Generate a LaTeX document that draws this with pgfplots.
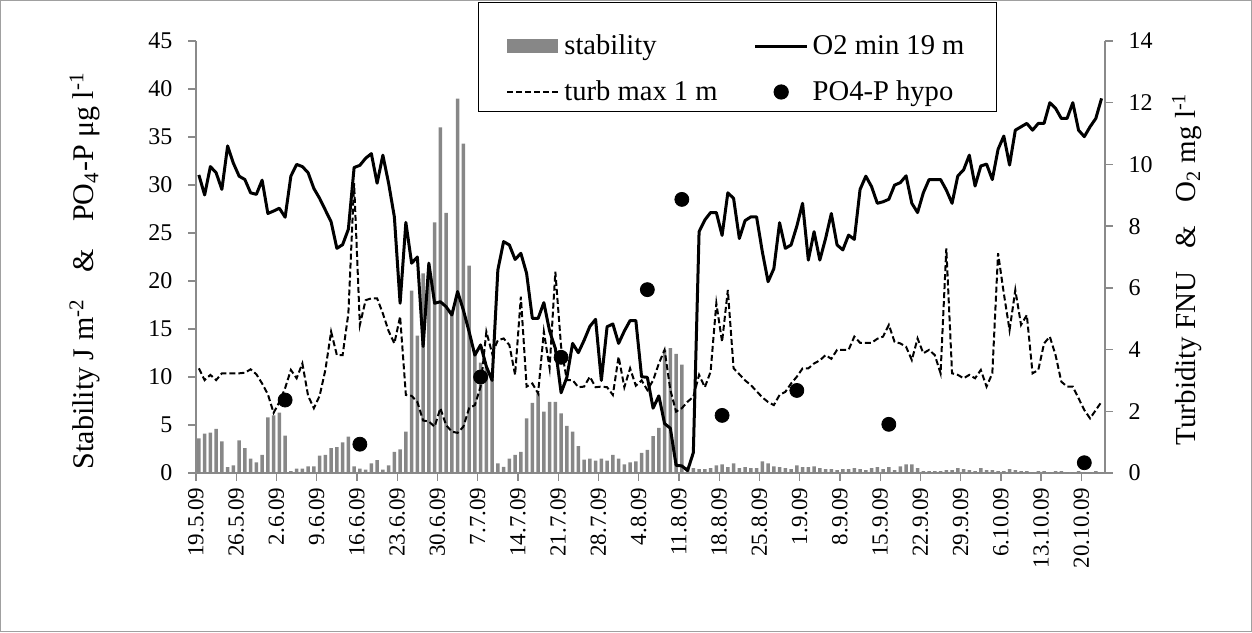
\documentclass[border=0pt]{standalone}
\usepackage{fontspec}
\setmainfont{Liberation Serif}
\usepackage{pgfplots}
\usepackage{pgfplotstable}
\pgfplotsset{compat=1.18}
\definecolor{barcol}{HTML}{878787}
\definecolor{axcol}{HTML}{8A8A8A}
\definecolor{framecol}{HTML}{A0A0A0}

% day 0 = 19.5.09; stability (left axis), O2 and turbidity (right axis)
\pgfplotstableread{
d stab o2 turb
0 3.6 9.66 3.39
1 4.1 9.01 3.01
2 4.2 9.93 3.18
3 4.6 9.73 3.01
4 3.3 9.19 3.23
5 0.6 10.6 3.23
6 0.8 10.04 3.23
7 3.4 9.62 3.23
8 2.6 9.51 3.25
9 1.5 9.08 3.36
10 1.1 9.03 3.2
11 1.9 9.49 2.9
12 5.8 8.41 2.55
13 6.0 8.49 1.95
14 6.3 8.58 2.3
15 3.9 8.29 2.75
16 0.2 9.62 3.34
17 0.45 10.0 3.07
18 0.45 9.93 3.55
19 0.7 9.73 2.5
20 0.7 9.22 2.1
21 1.8 8.9 2.5
22 1.9 8.52 3.34
23 2.6 8.14 4.58
24 2.7 7.28 3.82
25 3.2 7.4 3.82
26 3.8 7.9 5.17
27 0.7 9.9 9.39
28 0.45 9.97 4.8
29 0.35 10.2 5.6
30 1.0 10.35 5.66
31 1.35 9.39 5.66
32 0.35 10.3 5.17
33 0.8 9.39 4.6
34 2.2 8.3 4.2
35 2.45 5.5 5.07
36 4.3 8.12 2.53
37 19.0 6.8 2.5
38 14.3 7.0 2.3
39 20.8 4.1 1.7
40 21.5 6.8 1.67
41 26.1 5.5 1.5
42 36.0 5.55 2.1
43 27.1 5.39 1.55
44 17.0 5.12 1.34
45 39.0 5.88 1.3
46 34.3 5.28 1.5
47 21.6 4.58 2.1
48 12.5 3.82 2.2
49 11.5 4.15 2.8
50 11.0 3.45 4.58
51 10.5 3.0 3.88
52 1.0 6.58 4.3
53 0.65 7.5 4.36
54 1.5 7.39 4.15
55 1.9 6.92 3.18
56 2.2 7.12 5.71
57 5.7 6.47 2.8
58 7.3 5.01 2.9
59 8.3 5.01 2.58
60 6.4 5.52 4.58
61 7.4 4.6 3.4
62 7.4 4.04 6.52
63 6.2 2.6 4.09
64 4.9 3.1 3.01
65 4.3 4.2 3.01
66 2.8 3.9 2.78
67 1.4 4.3 2.8
68 1.5 4.75 3.12
69 1.3 4.98 2.78
70 1.5 3.0 2.8
71 1.3 4.74 2.78
72 1.9 4.83 2.53
73 1.5 4.2 3.77
74 0.9 4.6 2.78
75 1.1 4.94 3.39
76 1.2 4.94 2.83
77 2.1 3.12 3.0
78 2.4 3.1 2.69
79 3.85 2.1 3.0
80 4.7 2.5 3.55
81 12.8 1.6 3.99
82 13.0 1.45 2.69
83 12.4 0.25 1.99
84 11.3 0.23 2.1
85 0.6 0.08 2.31
86 0.5 0.66 2.47
87 0.4 7.82 3.18
88 0.4 8.2 2.78
89 0.5 8.44 3.28
90 0.8 8.44 5.5
91 0.9 7.7 4.25
92 0.6 9.08 5.93
93 1.0 8.9 3.39
94 0.5 7.6 3.2
95 0.6 8.18 3.0
96 0.5 8.3 2.85
97 0.5 8.3 2.65
98 1.2 7.17 2.45
99 1.0 6.2 2.3
100 0.7 6.62 2.2
101 0.6 8.11 2.53
102 0.5 7.28 2.63
103 0.4 7.39 2.9
104 0.8 8.0 3.12
105 0.6 8.74 3.39
106 0.6 6.9 3.39
107 0.7 7.82 3.55
108 0.5 6.9 3.65
109 0.4 7.6 3.82
110 0.4 8.41 3.7
111 0.3 7.39 3.99
112 0.4 7.23 3.99
113 0.4 7.71 3.99
114 0.5 7.57 4.42
115 0.4 9.19 4.22
116 0.3 9.62 4.22
117 0.5 9.28 4.22
118 0.6 8.74 4.35
119 0.4 8.79 4.42
120 0.6 8.87 4.8
121 0.3 9.33 4.25
122 0.7 9.41 4.2
123 0.9 9.63 4.09
124 0.9 8.74 3.66
125 0.5 8.44 4.36
126 0.2 9.08 3.88
127 0.2 9.51 3.99
128 0.2 9.51 3.82
129 0.2 9.51 3.23
130 0.3 9.17 7.28
131 0.3 8.74 3.23
132 0.5 9.63 3.18
133 0.4 9.82 3.07
134 0.3 10.3 3.18
135 0.2 9.3 3.07
136 0.5 9.95 3.34
137 0.3 10.01 2.8
138 0.3 9.51 3.23
139 0.2 10.49 7.12
140 0.2 10.92 5.82
141 0.4 9.98 4.63
142 0.3 11.11 5.93
143 0.2 11.22 4.8
144 0.2 11.33 5.12
145 0.1 11.11 3.23
146 0.2 11.33 3.34
147 0.2 11.33 4.2
148 0.1 12.0 4.42
149 0.2 11.82 3.82
150 0.2 11.49 2.96
151 0.1 11.49 2.8
152 0.1 12.0 2.8
153 0.2 11.11 2.42
154 0.1 10.9 2.04
155 0.1 11.22 1.77
156 0.2 11.49 2.04
157 0.1 12.14 2.31
}\daily

\pgfplotstableread{
d po4
15 7.6
28 3.0
49 10.0
63 12.05
78 19.1
84 28.5
91 6.0
104 8.6
120 5.07
154 1.07
}\phos

\pgfplotsset{
  base/.style={
    scale only axis, width=454.5pt, height=216pt,
    at={(98pt,79.5pt)}, anchor=south west,
    xmin=-0.5, xmax=157.6,
    /pgf/number format/assume math mode=true,
    axis line style={axcol, line width=0.7pt},
    tick style={axcol, line width=0.7pt},
    tick align=outside,
    major tick length=3.8pt,
    ticklabel style={font=\fontsize{12}{14}\selectfont, black},
  },
}

\begin{document}
\begin{tikzpicture}
\useasboundingbox (0,0) rectangle (626pt,316pt);
\draw[framecol, line width=0.6pt] (0.3pt,0.3pt) rectangle (625.7pt,315.7pt);

% left axis: stability bars
\begin{axis}[base,
  ymin=0, ymax=45, ytick={0,5,...,45},
  axis y line*=left, axis x line*=bottom,
  xtick={-0.5,6.5,13.5,20.5,27.5,34.5,41.5,48.5,55.5,62.5,69.5,76.5,83.5,90.5,97.5,104.5,111.5,118.5,125.5,132.5,139.5,146.5,153.5},
  xticklabels={19.5.09,26.5.09,2.6.09,9.6.09,16.6.09,23.6.09,30.6.09,7.7.09,14.7.09,21.7.09,28.7.09,4.8.09,11.8.09,18.8.09,25.8.09,1.9.09,8.9.09,15.9.09,22.9.09,29.9.09,6.10.09,13.10.09,20.10.09},
  xticklabel style={rotate=90, anchor=east, font=\fontsize{11.5}{13}\selectfont},
  yticklabel style={anchor=east, xshift=-4.5pt},
  every axis y label/.style={at={([xshift=-55.5pt]rel axis cs:0,0.468)}, rotate=90, anchor=center, font=\fontsize{15}{17}\selectfont},
  ylabel={Stability J m\textsuperscript{-2}\hspace{0.9em}\&\hspace{0.9em}PO\textsubscript{4}-P μg l\textsuperscript{-1}},
]
\addplot[ybar, bar width=1.7pt, fill=barcol, draw=none] table[x=d, y=stab] {\daily};
\end{axis}

% right axis: O2 and turbidity
\begin{axis}[base,
  ymin=0, ymax=14, ytick={0,2,...,14},
  axis y line*=right, axis x line=none, xtick=\empty,
  yticklabel style={anchor=west, xshift=4.5pt},
  every axis y label/.style={at={([xshift=41pt]rel axis cs:1,0.472)}, rotate=90, anchor=center, font=\fontsize{14.5}{16}\selectfont},
  ylabel={Turbidity FNU\hspace{0.8em}\&\hspace{0.8em}O\textsubscript{2} mg l\textsuperscript{-1}},
]
\addplot[black, line width=1pt, dash pattern=on 3pt off 1.5pt] table[x=d, y=turb] {\daily};
\addplot[black, line width=1.5pt, line join=round] table[x=d, y=o2] {\daily};
\end{axis}

% left scale again: PO4 markers on top, and the legend
\begin{axis}[base,
  ymin=0, ymax=45, hide axis,
  legend columns=2,
  legend cell align=left,
  legend style={at={(0.310,0.8356)}, anchor=south west, draw=black, line width=0.6pt,
    font=\fontsize{14.3}{16}\selectfont, inner xsep=14pt, inner ysep=2pt,
    row sep=7.5pt, nodes={inner xsep=2pt},
    /tikz/every even column/.append style={column sep=16pt}},
]
\addlegendimage{legend image code/.code={\path[draw=none, fill=none] (0pt,-1pt) rectangle (0.1pt,20pt); \fill[barcol] (0pt,-3.25pt) rectangle (25pt,3.25pt);}}
\addlegendentry{stability}
\addlegendimage{legend image code/.code={\path[draw=none, fill=none] (0pt,-1pt) rectangle (0.1pt,20pt); \draw[black, line width=1.5pt] (0pt,0pt) -- (26pt,0pt);}}
\addlegendentry{O2 min 19 m}
\addlegendimage{legend image code/.code={\draw[black, line width=1pt, dash pattern=on 3pt off 1.5pt] (0pt,0pt) -- (26pt,0pt);}}
\addlegendentry{turb max 1 m}
\addplot[only marks, mark=*, mark size=3.5pt, black,
  legend image code/.code={\fill[black] (13pt,0pt) circle (3.5pt);}] table[x=d, y=po4] {\phos};
\addlegendentry{PO4-P hypo}
\end{axis}
\end{tikzpicture}
\end{document}
